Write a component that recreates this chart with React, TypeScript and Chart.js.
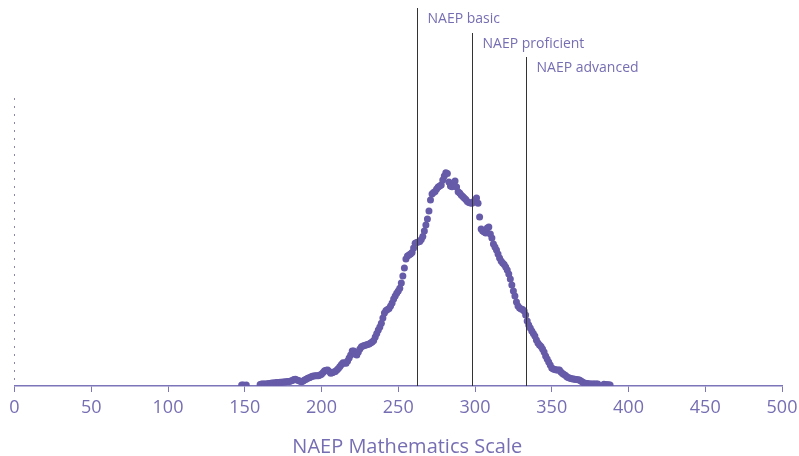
import React, { useEffect, useRef } from "react";
import { Chart, registerables } from "chart.js";

Chart.register(...registerables);

// NAEP mathematics scale scores
const SCORES: number[] = [
  148, 149, 151,
  160, 161, 162, 163, 164, 165, 166, 167, 168, 169,
  170, 171, 172, 173, 174, 175, 176, 177, 178, 179,
  180, 181, 182, 183, 184, 185, 186, 187, 188, 189,
  190, 191, 192, 193, 194, 195, 196, 197, 198, 199,
  200, 201, 202, 203, 204, 205, 206, 207, 208, 209,
  210, 211, 212, 213, 214, 215, 216, 217, 218, 219,
  220, 221, 222, 223, 224, 225, 226, 227, 228, 229,
  230, 231, 232, 233, 234, 235, 236, 237, 238, 239,
  240, 241, 242, 243, 244, 245, 246, 247, 248, 249,
  250, 251, 252, 253, 254, 255, 256, 257, 258, 259,
  260, 261, 262, 263, 264, 265, 266, 267, 268, 269,
  270, 271, 272, 273, 274, 275, 276, 277, 278, 279,
  280, 281, 282, 283, 284, 285, 286, 287, 288, 289,
  290, 291, 292, 293, 294, 295, 296, 297, 298, 299,
  300, 301, 302, 303, 304, 305, 306, 307, 308, 309,
  310, 311, 312, 313, 314, 315, 316, 317, 318, 319,
  320, 321, 322, 323, 324, 325, 326, 327, 328, 329,
  330, 331, 332, 333, 334, 335, 336, 337, 338, 339,
  340, 341, 342, 343, 344, 345, 346, 347, 348, 349,
  350, 351, 352, 353, 354, 355, 356, 357, 358, 359,
  360, 361, 362, 363, 364, 365, 366, 367, 368, 369,
  370, 371, 372, 373, 374, 375, 376, 377, 378, 379,
  380, 384, 385, 386, 387, 388,
];

// share of students (percent) at each score
const SHARES: number[] = [
  0.005, 0.005, 0.005,
  0.008, 0.010, 0.010, 0.010, 0.010, 0.012, 0.013, 0.014, 0.015, 0.016,
  0.017, 0.018, 0.018, 0.019, 0.019, 0.021, 0.021, 0.022, 0.023, 0.024,
  0.026, 0.029, 0.034, 0.035, 0.031, 0.028, 0.025, 0.022, 0.026, 0.031,
  0.035, 0.040, 0.043, 0.047, 0.051, 0.052, 0.053, 0.053, 0.054, 0.057,
  0.061, 0.070, 0.080, 0.082, 0.083, 0.076, 0.066, 0.069, 0.073, 0.076,
  0.083, 0.091, 0.101, 0.112, 0.121, 0.120, 0.118, 0.130, 0.146, 0.161,
  0.182, 0.182, 0.167, 0.161, 0.177, 0.193, 0.205, 0.208, 0.211, 0.214,
  0.216, 0.219, 0.224, 0.229, 0.237, 0.255, 0.274, 0.292, 0.307, 0.327,
  0.354, 0.380, 0.393, 0.398, 0.404, 0.417, 0.432, 0.453, 0.469, 0.483,
  0.495, 0.509, 0.536, 0.573, 0.615, 0.661, 0.677, 0.682, 0.688, 0.695,
  0.719, 0.743, 0.747, 0.750, 0.752, 0.763, 0.778, 0.807, 0.839, 0.870,
  0.911, 0.969, 1.000, 1.008, 1.013, 1.026, 1.036, 1.042, 1.047, 1.073,
  1.094, 1.111, 1.107, 1.063, 1.042, 1.038, 1.052, 1.068, 1.036, 1.012,
  1.005, 0.995, 0.987, 0.979, 0.971, 0.961, 0.956, 0.953, 0.952, 0.958,
  0.969, 0.979, 0.952, 0.880, 0.818, 0.807, 0.802, 0.797, 0.823, 0.828,
  0.792, 0.771, 0.740, 0.724, 0.708, 0.688, 0.667, 0.651, 0.641, 0.633,
  0.620, 0.604, 0.583, 0.557, 0.526, 0.495, 0.469, 0.438, 0.417, 0.406,
  0.401, 0.398, 0.391, 0.370, 0.339, 0.318, 0.302, 0.286, 0.273, 0.260,
  0.240, 0.224, 0.214, 0.206, 0.193, 0.177, 0.156, 0.141, 0.125, 0.109,
  0.094, 0.089, 0.086, 0.083, 0.083, 0.083, 0.073, 0.065, 0.060, 0.055,
  0.047, 0.043, 0.040, 0.038, 0.036, 0.035, 0.034, 0.032, 0.031, 0.026,
  0.021, 0.016, 0.014, 0.013, 0.012, 0.011, 0.010, 0.010, 0.010, 0.010,
  0.010, 0.009, 0.008, 0.007, 0.006, 0.005,
];

// achievement-level cut scores
const CUT_SCORES: number[] = [262, 298, 333];
const CUT_LABELS: string[] = ["NAEP basic", "NAEP proficient", "NAEP advanced"];

const X_TICKS: number[] = [0, 50, 100, 150, 200, 250, 300, 350, 400, 450, 500];
const X_TITLE = "NAEP Mathematics Scale";

const FONT = "'Open Sans', 'Noto Sans', sans-serif";
const DOT_COLOR = "#665ba8";
const TEXT_COLOR = "#766eb3";
const AXIS_COLOR = "#7d75b9";
const LINE_TOPS = [8, 33, 57];

const decorPlugin = {
  id: "decor",
  beforeDatasetsDraw(chart: any) {
    const { ctx, chartArea } = chart;
    // dotted value axis
    ctx.save();
    ctx.fillStyle = "#8a84aa";
    const xPos = Math.round(chartArea.left) - 1;
    for (let y = chartArea.bottom - 8; y >= chartArea.top - 1; y -= 8) {
      ctx.fillRect(xPos, Math.round(y), 1, 2);
    }
    ctx.restore();
  },
  afterDatasetsDraw(chart: any) {
    const { ctx, chartArea, scales } = chart;
    const x = scales.x;
    ctx.save();
    CUT_SCORES.forEach((v, i) => {
      const px = Math.round(x.getPixelForValue(v)) + 0.5;
      ctx.beginPath();
      ctx.strokeStyle = "#333333";
      ctx.lineWidth = 1;
      ctx.moveTo(px, LINE_TOPS[i]);
      ctx.lineTo(px, chartArea.bottom);
      ctx.stroke();
      ctx.fillStyle = TEXT_COLOR;
      ctx.font = `14px ${FONT}`;
      ctx.textBaseline = "alphabetic";
      ctx.textAlign = "left";
      ctx.fillText(CUT_LABELS[i], px + 10, LINE_TOPS[i] + 14.5);
    });
    // axis title
    ctx.fillStyle = TEXT_COLOR;
    ctx.font = `20px ${FONT}`;
    ctx.textAlign = "center";
    ctx.textBaseline = "alphabetic";
    const cx = (chartArea.left + chartArea.right) / 2 + 9;
    ctx.fillText(X_TITLE, cx, 453);
    ctx.restore();
  },
};

export default function App() {
  const canvasRef = useRef<HTMLCanvasElement | null>(null);

  useEffect(() => {
    document.body.style.margin = "0";
    const canvas = canvasRef.current;
    if (!canvas) return;
    const points = SCORES.map((s, i) => ({ x: s, y: SHARES[i] }));
    const chart = new Chart(canvas, {
      type: "scatter",
      data: {
        datasets: [
          {
            data: points,
            backgroundColor: DOT_COLOR,
            borderWidth: 0,
            pointRadius: 3.5,
            pointHoverRadius: 3.5,
          },
        ],
      },
      options: {
        animation: false,
        responsive: true,
        maintainAspectRatio: false,
        layout: { padding: { left: 14.5, right: 17, top: 98, bottom: 0 } },
        plugins: {
          legend: { display: false },
          tooltip: { enabled: false },
        },
        scales: {
          x: {
            type: "linear",
            min: 0,
            max: 500,
            afterBuildTicks: (scale: any) => {
              scale.ticks = X_TICKS.map((v) => ({ value: v }));
            },
            afterFit: (scale: any) => {
              scale.height = 70;
              scale.paddingLeft = 0;
              scale.paddingRight = 0;
            },
            ticks: {
              color: TEXT_COLOR,
              font: { family: FONT, size: 18 },
              padding: 5,
              maxRotation: 0,
            },
            grid: {
              display: true,
              drawOnChartArea: false,
              drawTicks: true,
              tickLength: 6,
              color: AXIS_COLOR,
              lineWidth: 1,
            },
            border: { display: true, color: AXIS_COLOR, width: 1.5 },
            title: { display: false },
          },
          y: {
            type: "linear",
            min: 0,
            max: 1.5,
            afterFit: (scale: any) => {
              scale.width = 0;
            },
            ticks: { display: false },
            grid: { display: false },
            border: { display: false },
          },
        },
      },
      plugins: [decorPlugin],
    });
    return () => chart.destroy();
  }, []);

  return (
    <div style={{ position: "relative", width: 799, height: 456 }}>
      <canvas ref={canvasRef} />
    </div>
  );
}
